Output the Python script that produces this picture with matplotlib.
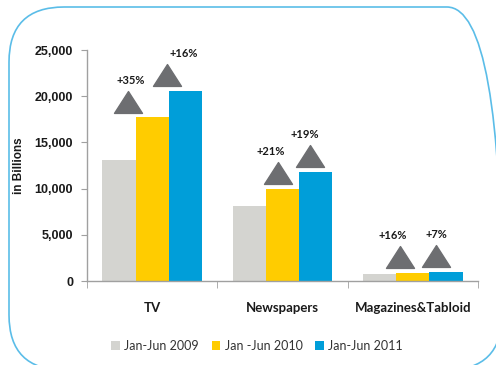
import matplotlib
matplotlib.use("Agg")
import matplotlib.pyplot as plt
import numpy as np
from matplotlib.patches import FancyBboxPatch
from matplotlib.path import Path
import matplotlib.transforms as mtransforms

# ---- data ----
categories = ["TV", "Newspapers", "Magazines&Tabloid"]
series_names = ["Jan-Jun 2009", "Jan -Jun 2010", "Jan-Jun 2011"]
v2009 = [13100, 8100, 750]
v2010 = [17700, 9950, 870]
v2011 = [20600, 11800, 940]
growth_2010 = ["+35%", "+21%", "+16%"]
growth_2011 = ["+16%", "+19%", "+7%"]
yticks = [0, 5000, 10000, 15000, 20000, 25000]

# ---- style ----
colors = ["#d4d4d0", "#ffcc00", "#009ed9"]
tri_color = "#6d6e71"
# per-annotation pixel offsets (layout only)
tri_dx_2010 = [-24, -5, -13]
tri_dx_2011 = [-18, -6, -10]
lab_dx_2010 = [-21, -12, -20]
lab_dx_2011 = [-2, -11, -10]

W, H, DPI = 496, 365, 100
fig = plt.figure(figsize=(W / DPI, H / DPI), dpi=DPI)

# rounded border
bx0, bx1, by_top, by_bot = 9, 502, 7, 370
box = FancyBboxPatch((bx0 / W, (H - by_bot) / H), (bx1 - bx0) / W, (by_bot - by_top) / H,
                     boxstyle="round,pad=0,rounding_size=0.111",
                     transform=fig.transFigure, fill=False,
                     edgecolor="#5bbde8", linewidth=1.2,
                     mutation_aspect=W / H)
fig.patches.append(box)

ax = fig.add_axes([87 / W, 84 / H, (478 - 87) / W, (315 - 84) / H])
x = np.arange(len(categories))
bw = 0.255
series = [v2009, v2010, v2011]
for i, (vals, c, name) in enumerate(zip(series, colors, series_names)):
    ax.bar(x + (i - 1) * bw, vals, width=bw, color=c, label=name, zorder=2)

ax.set_xlim(-0.5, 2.5)
ax.set_ylim(0, 25000)
ax.set_yticks(yticks)
ax.set_yticklabels([f"{t:,}" for t in yticks])
for lab in ax.get_yticklabels():
    lab.set_fontfamily("Liberation Sans")
    lab.set_fontweight("bold")
    lab.set_fontsize(9)
    lab.set_color("#1a1a1a")
ax.tick_params(axis="y", length=4, color="#a0a0a0", pad=6)

ax.set_xticks(x)
ax.set_xticklabels(categories, fontfamily="Lato", fontweight="bold",
                   fontsize=9.5, color="#1a1a1a")
ax.tick_params(axis="x", length=0, pad=15)
ax.set_xticks([-0.5, 0.5, 1.5, 2.5], minor=True)
ax.tick_params(axis="x", which="minor", length=5, color="#a0a0a0")

for s in ["top", "right"]:
    ax.spines[s].set_visible(False)
for s in ["left", "bottom"]:
    ax.spines[s].set_color("#a0a0a0")
    ax.spines[s].set_linewidth(1.0)

ax.set_ylabel("in Billions", fontfamily="Liberation Sans", fontweight="bold",
              fontsize=8.5, color="#1a1a1a")
ax.yaxis.set_label_coords((25 - 87) / (478 - 87), 0.5)

# triangle marker
tri = Path([(-1, -0.78), (1, -0.78), (0, 0.78), (-1, -0.78)],
           [Path.MOVETO, Path.LINETO, Path.LINETO, Path.CLOSEPOLY])
msize = 28 * 72 / DPI
tri_h_px = 28 * 0.78
gap_px = 5

def px(dx, dy):
    return mtransforms.ScaledTranslation(dx / DPI, dy / DPI, fig.dpi_scale_trans)

for i in range(len(categories)):
    for k, (vals, txts, tdx, ldx) in enumerate([
            (v2010, growth_2010, tri_dx_2010, lab_dx_2010),
            (v2011, growth_2011, tri_dx_2011, lab_dx_2011)]):
        xc = x[i] + k * bw
        yt = vals[i]
        ax.plot([xc], [yt], marker=tri, markersize=msize, color=tri_color,
                linestyle="none", zorder=3,
                transform=ax.transData + px(tdx[i], gap_px + tri_h_px / 2))
        ax.text(xc, yt, txts[i], ha="center", va="bottom",
                fontfamily="Lato", fontweight="bold", fontsize=8,
                color="#1a1a1a",
                transform=ax.transData + px(ldx[i], gap_px + tri_h_px + 5))

handles, labels = ax.get_legend_handles_labels()
leg = fig.legend(handles, labels, loc="center", bbox_to_anchor=(257 / W, 19 / H),
                 ncol=3, frameon=False, handlelength=0.7, handleheight=0.7,
                 handletextpad=0.35, columnspacing=1.0,
                 prop={"family": "Lato", "size": 9})
for t in leg.get_texts():
    t.set_color("#333333")

fig.savefig("out.png", dpi=DPI)
